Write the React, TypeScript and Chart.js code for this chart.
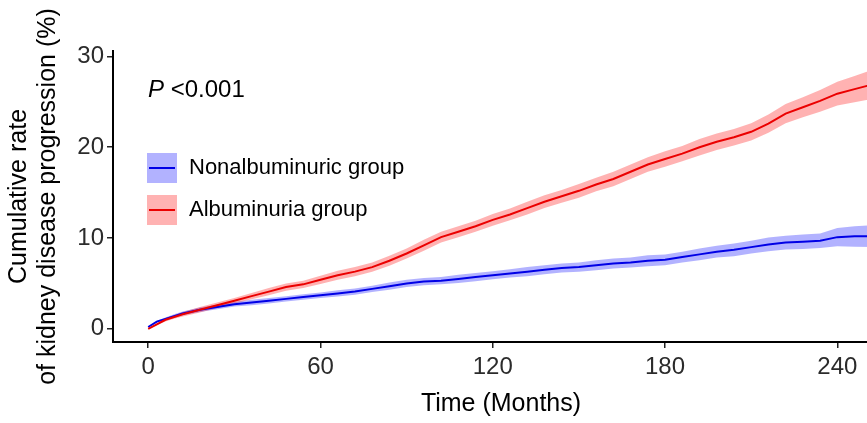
import React, { useEffect, useRef } from "react";
import { Chart, registerables } from "chart.js";

Chart.register(...registerables);

// ---- data ----
const months = [0, 3, 6, 9, 12, 18, 24, 30, 36, 42, 48, 54, 60, 66, 72, 78, 84, 90, 96, 102, 108, 114, 120, 126, 132, 138, 144, 150, 156, 162, 168, 174, 180, 186, 192, 198, 204, 210, 216, 222, 228, 234, 240, 246, 252];

const albuminuria = [0, 0.5, 1.0, 1.3, 1.6, 2.1, 2.6, 3.1, 3.6, 4.1, 4.6, 4.9, 5.4, 5.9, 6.3, 6.8, 7.5, 8.3, 9.2, 10.1, 10.7, 11.3, 12.0, 12.6, 13.3, 14.0, 14.6, 15.2, 15.9, 16.5, 17.3, 18.1, 18.7, 19.3, 20.0, 20.6, 21.1, 21.7, 22.6, 23.7, 24.4, 25.1, 25.9, 26.4, 26.9];
const albuminuriaLower = [0, 0.4, 0.8, 1.1, 1.35, 1.8, 2.3, 2.8, 3.25, 3.7, 4.2, 4.5, 4.95, 5.4, 5.8, 6.3, 6.95, 7.75, 8.6, 9.5, 10.1, 10.7, 11.35, 11.95, 12.6, 13.3, 13.9, 14.45, 15.15, 15.7, 16.5, 17.3, 17.85, 18.45, 19.1, 19.7, 20.2, 20.75, 21.6, 22.65, 23.3, 23.9, 24.6, 24.95, 25.3];
const albuminuriaUpper = [0, 0.6, 1.2, 1.5, 1.85, 2.4, 2.9, 3.4, 3.95, 4.5, 5.0, 5.3, 5.85, 6.4, 6.8, 7.3, 8.05, 8.85, 9.8, 10.7, 11.3, 11.9, 12.65, 13.25, 14.0, 14.7, 15.3, 15.95, 16.65, 17.3, 18.1, 18.9, 19.55, 20.15, 20.9, 21.5, 22.0, 22.65, 23.6, 24.75, 25.5, 26.3, 27.2, 27.85, 28.5];

const nonalbuminuric = [0.2, 0.8, 1.1, 1.4, 1.7, 2.1, 2.4, 2.7, 2.9, 3.1, 3.3, 3.5, 3.7, 3.9, 4.1, 4.4, 4.7, 5.0, 5.2, 5.3, 5.5, 5.7, 5.9, 6.1, 6.3, 6.5, 6.7, 6.8, 7.0, 7.2, 7.3, 7.5, 7.6, 7.9, 8.2, 8.5, 8.7, 9.0, 9.3, 9.5, 9.6, 9.7, 10.1, 10.2, 10.2];
const nonalbuminuricLower = [0.2, 0.7, 0.95, 1.2, 1.5, 1.85, 2.15, 2.45, 2.6, 2.8, 3.0, 3.2, 3.4, 3.55, 3.75, 4.05, 4.3, 4.6, 4.8, 4.9, 5.05, 5.25, 5.45, 5.65, 5.8, 6.0, 6.2, 6.3, 6.45, 6.65, 6.75, 6.9, 7.0, 7.3, 7.55, 7.85, 8.0, 8.3, 8.55, 8.75, 8.8, 8.9, 9.1, 9.05, 9.0];
const nonalbuminuricUpper = [0.2, 0.9, 1.25, 1.6, 1.9, 2.35, 2.65, 2.95, 3.2, 3.4, 3.6, 3.8, 4.0, 4.25, 4.45, 4.75, 5.1, 5.4, 5.6, 5.7, 5.95, 6.15, 6.35, 6.55, 6.8, 7.0, 7.2, 7.3, 7.55, 7.75, 7.85, 8.1, 8.2, 8.5, 8.85, 9.15, 9.4, 9.7, 10.05, 10.25, 10.4, 10.5, 11.1, 11.3, 11.4];

const xTicks = [0, 60, 120, 180, 240];
const yTicks = [0, 10, 20, 30];

const seriesLabels = ["Nonalbuminuric group", "Albuminuria group"];
const pValueText = "<0.001";

// ---- styles ----
const FONT = "'Liberation Sans', Arial, Helvetica, sans-serif";
const BLUE = "rgb(0,0,230)";
const RED = "rgb(235,0,0)";
const BLUE_BAND = "rgba(0,0,255,0.3)";
const RED_BAND = "rgba(255,0,0,0.3)";

const pts = (ys: number[]) => months.map((m, i) => ({ x: m, y: ys[i] }));

const overlayPlugin = {
  id: "overlay",
  afterDraw(chart: any) {
    const ctx = chart.ctx as CanvasRenderingContext2D;
    ctx.save();
    // P value
    ctx.fillStyle = "#000";
    ctx.textBaseline = "middle";
    ctx.textAlign = "left";
    ctx.font = `italic 24px ${FONT}`;
    ctx.fillText("P", 148, 90);
    const pw = ctx.measureText("P").width;
    ctx.font = `24px ${FONT}`;
    ctx.fillText(" " + pValueText, 148 + pw, 90);
    // legend
    const keys = [
      { label: seriesLabels[0], band: BLUE_BAND, line: BLUE, y: 153 },
      { label: seriesLabels[1], band: RED_BAND, line: RED, y: 195 },
    ];
    keys.forEach((k) => {
      ctx.fillStyle = k.band;
      ctx.fillRect(147, k.y, 30, 30);
      ctx.strokeStyle = k.line;
      ctx.lineWidth = 2;
      ctx.beginPath();
      ctx.moveTo(149, k.y + 15);
      ctx.lineTo(175, k.y + 15);
      ctx.stroke();
      ctx.fillStyle = "#000";
      ctx.font = `22px ${FONT}`;
      ctx.textBaseline = "middle";
      ctx.fillText(k.label, 189, k.y + 15);
    });
    ctx.restore();
  },
};

export default function App() {
  const ref = useRef<HTMLCanvasElement | null>(null);

  useEffect(() => {
    document.body.style.margin = "0";
    const canvas = ref.current!;
    const lineDs = (label: string, ys: number[], color: string) => ({
      label,
      data: pts(ys),
      borderColor: color,
      borderWidth: 2,
      pointRadius: 0,
      fill: false,
      tension: 0,
    });
    const bandDs = (label: string, ys: number[], fill: any, bg?: string) => ({
      label,
      data: pts(ys),
      borderWidth: 0,
      borderColor: "rgba(0,0,0,0)",
      backgroundColor: bg || "rgba(0,0,0,0)",
      pointRadius: 0,
      fill,
      tension: 0,
    });
    const chart = new Chart(canvas, {
      type: "line",
      data: {
        datasets: [
          lineDs(seriesLabels[1], albuminuria, RED),
          lineDs(seriesLabels[0], nonalbuminuric, BLUE),
          bandDs("Albuminuria upper", albuminuriaUpper, "+1", RED_BAND),
          bandDs("Albuminuria lower", albuminuriaLower, false),
          bandDs("Nonalbuminuric upper", nonalbuminuricUpper, "+1", BLUE_BAND),
          bandDs("Nonalbuminuric lower", nonalbuminuricLower, false),
        ] as any,
      },
      options: {
        animation: false,
        responsive: false,
        devicePixelRatio: 1,
        layout: { padding: { top: 51, right: 0, left: 0, bottom: 0 } },
        plugins: {
          legend: { display: false },
          tooltip: { enabled: false },
        },
        scales: {
          x: {
            type: "linear",
            min: -12.26,
            max: 258,
            afterFit: (s: any) => {
              s.height = 81;
            },
            afterBuildTicks: (s: any) => {
              s.ticks = xTicks.map((v) => ({ value: v }));
            },
            border: { display: true, color: "#000", width: 2 },
            grid: {
              display: true,
              drawOnChartArea: false,
              drawTicks: true,
              tickLength: 6,
              color: "#222",
              lineWidth: 1.5,
            },
            ticks: {
              color: "#2b2b2b",
              font: { family: FONT, size: 24 },
              padding: 5,
              maxRotation: 0,
            },
            title: {
              display: true,
              text: "Time (Months)",
              color: "#000",
              font: { family: FONT, size: 25 },
              padding: { top: 0, bottom: 4 },
            },
          },
          y: {
            type: "linear",
            min: -1.45,
            max: 30.6,
            afterFit: (s: any) => {
              s.width = 113;
            },
            afterBuildTicks: (s: any) => {
              s.ticks = yTicks.map((v) => ({ value: v }));
            },
            border: { display: true, color: "#000", width: 2 },
            grid: {
              display: true,
              drawOnChartArea: false,
              drawTicks: true,
              tickLength: 6,
              color: "#222",
              lineWidth: 1.5,
            },
            ticks: {
              color: "#2b2b2b",
              font: { family: FONT, size: 24 },
              padding: 3,
            },
            title: {
              display: true,
              text: ["Cumulative rate", "of kidney disease progression (%)"],
              color: "#000",
              font: { family: FONT, size: 25, lineHeight: 1.16 },
              padding: { top: 5, bottom: 0 },
            },
          },
        },
      },
      plugins: [overlayPlugin],
    });
    return () => chart.destroy();
  }, []);

  return (
    <div style={{ position: "fixed", left: 0, top: 0, width: 867, height: 423, overflow: "hidden", background: "#fff" }}>
      <canvas ref={ref} width={889} height={423} style={{ display: "block" }} />
    </div>
  );
}
